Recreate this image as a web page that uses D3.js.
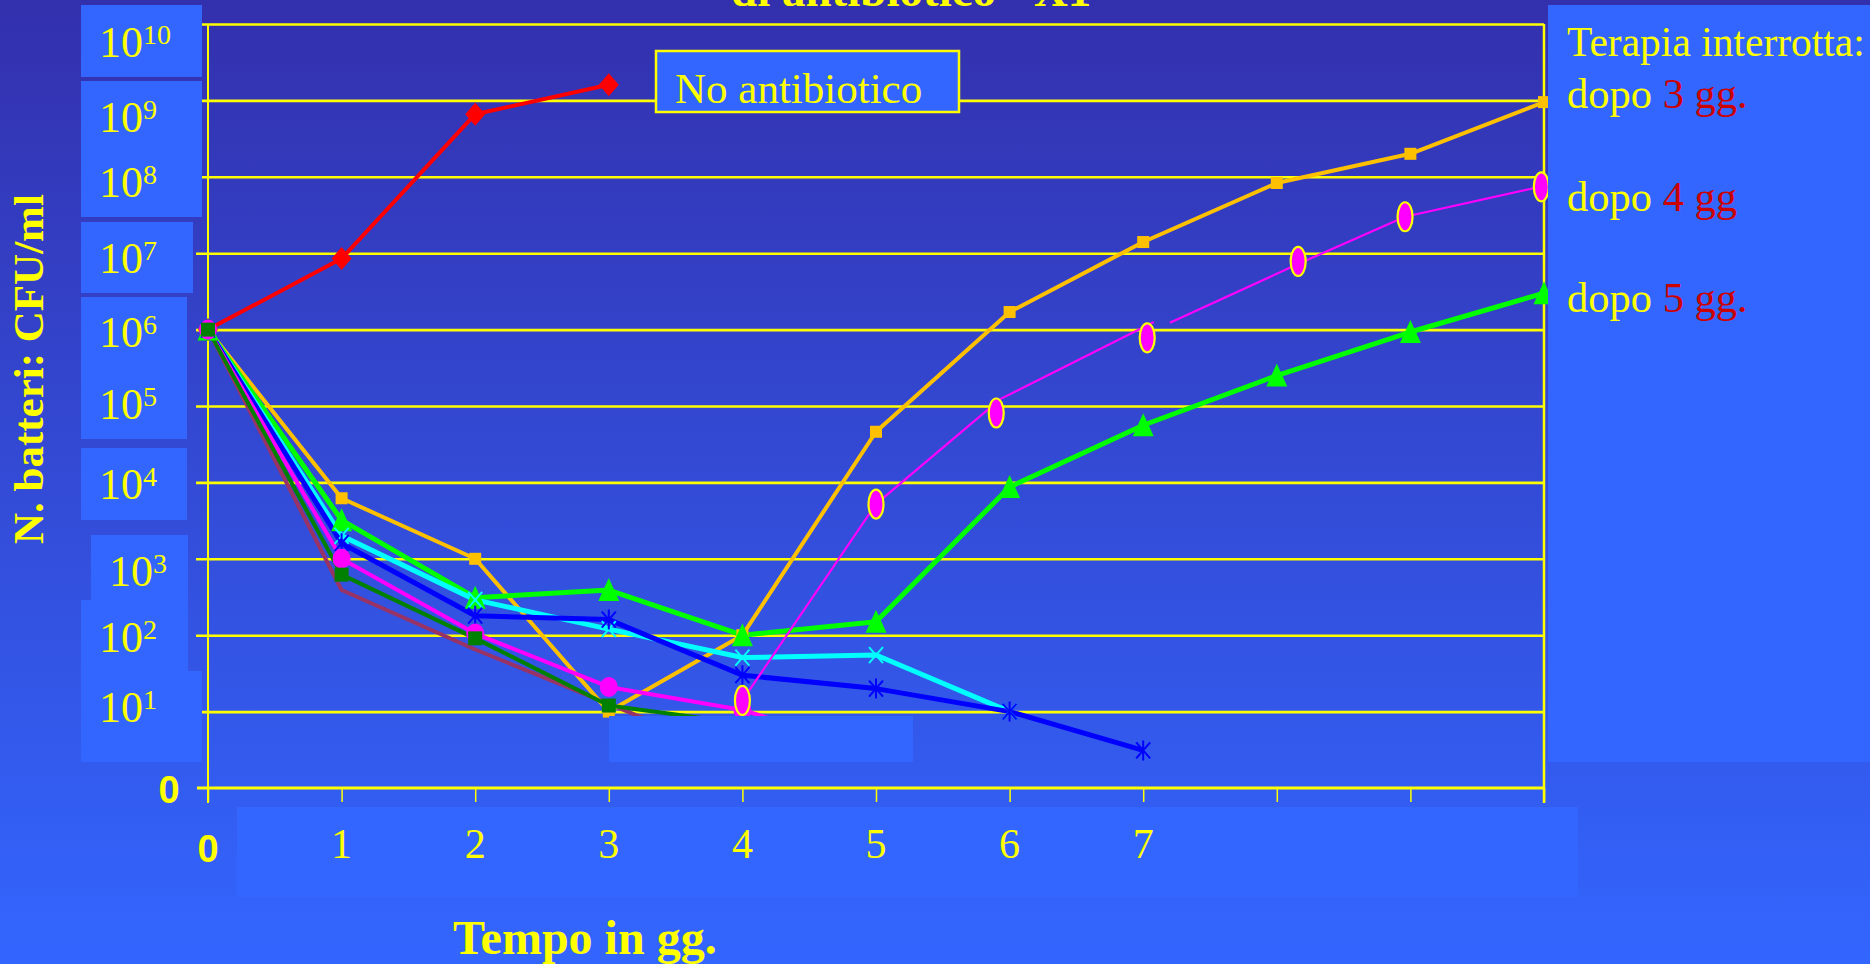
<!DOCTYPE html>
<html><head><meta charset="utf-8">
<script src="https://cdn.jsdelivr.net/npm/d3@7"></script>
<style>html,body{margin:0;padding:0;overflow:hidden;background:#3366FF}</style>
</head><body>
<svg id="c" width="1870" height="964"></svg>
<script>
// ---------- DATA ----------
const days = [0,1,2,3,4,5,6,7,8,9,10];
const xTickLabels = ["1","2","3","4","5","6","7"];
const yExponents = [1,2,3,4,5,6,7,8,9,10];
// CFU/ml per day (index = day)
const cfuNoAntibiotic = [1e6, 8.5e6, 6.6e8, 1.6e9];
const cfuStop3 = [1e6, 6200, 1000, 10, 100, 46000, 1.7e6, 1.4e7, 8.3e7, 2.0e8, 9.5e8];
const cfuStop5 = [1e6, 3200, 310, 390, 100, 150, 8700, 56000, 2.5e5, 9.3e5, 3.0e6];
const cfuCyan = [1e6, 2000, 290, 120, 51, 55, 10];
const cfuBlue = [1e6, 1600, 180, 160, 30, 20, 10, 3.1];
const cfuMagenta = [1e6, 1000, 105, 21, 10.5, 3];
const cfuDarkGreen = [1e6, 620, 91, 12, 7];
const cfuBrown = [1e6, 390, 65, 12.6, 2.4];
// "dopo 4 gg" hand-drawn curve: [day, CFU/ml]
const stop4LineA = [[4,14],[5,5200],[5.93,1.23e5],[7.08,1.26e6]];
const stop4LineB = [[7.2,1.23e6],[8.15,7.1e6],[8.96,3.0e7],[9.97,7.4e7]];
const stop4Marks = [[4,14],[5,5200],[5.9,8.1e4],[7.03,7.8e5],[8.16,7.8e6],[8.96,3.0e7],[9.98,7.4e7]];
const legendLines = [
  {pre:"dopo ", num:"3", post:" gg."},
  {pre:"dopo ", num:"4", post:" gg"},
  {pre:"dopo ", num:"5", post:" gg."}
];

// ---------- LAYOUT ----------
const W = 1870, H = 964;
const YEL = "#FFFF00";
const serif = "'Liberation Serif','Times New Roman',serif";
const sans = "'Liberation Sans',Arial,sans-serif";
const x = d3.scaleLinear().domain([0,10]).range([208,1544]);
const y = d3.scaleLog().domain([1,1e10]).range([788,24]);
const labelNudge = {1:10,2:17,3:27,4:17,5:13,6:17,7:20,8:20,9:32,10:33};
const panelRects = [
  [81,5,121,72],[81,81,121,136],[81,222,112,71],[81,297,106,142],[81,448,106,72],
  [91,535,97,65],[81,600,107,71],[81,671,121,91]
];
const coverRects = [[609,716,304,46],[1548,5,322,757],[237,807,1341,90]];

const svg = d3.select("#c");
const defs = svg.append("defs");
const g = defs.append("linearGradient").attr("id","bg").attr("x1",0).attr("y1",0).attr("x2",0).attr("y2",1);
g.append("stop").attr("offset","0").attr("stop-color","#3330AD");
g.append("stop").attr("offset","1").attr("stop-color","#3366FF");
svg.append("rect").attr("width",W).attr("height",H).attr("fill","url(#bg)");

// title (partly cut off at the top, as in the slide)
svg.append("text").attr("x",731).attr("y",6)
  .attr("font-family",serif).attr("font-weight","bold").attr("font-size",47)
  .attr("fill",YEL).text('di antibiotico "X1"');

// gridlines via axis
const grid = svg.append("g").attr("transform","translate(196,0)")
  .call(d3.axisLeft(y).tickValues(yExponents.map(e=>Math.pow(10,e)))
    .tickSize(-(1544-196)).tickFormat(""));
grid.select(".domain").remove();
grid.selectAll(".tick line").attr("stroke",YEL).attr("stroke-width",2.6);

// bottom axis line and ticks
const xa = svg.append("g").attr("transform",`translate(0,${y(1)})`)
  .call(d3.axisBottom(x).tickValues(days).tickSize(14).tickSizeOuter(0).tickFormat(""));
xa.select(".domain").remove();
xa.selectAll(".tick line").attr("stroke",YEL).attr("stroke-width",1.5);
svg.append("line").attr("x1",197).attr("x2",1544).attr("y1",y(1)).attr("y2",y(1))
  .attr("stroke",YEL).attr("stroke-width",3);
// vertical axes
svg.append("line").attr("x1",x(0)).attr("x2",x(0)).attr("y1",y(1e10)).attr("y2",803)
  .attr("stroke",YEL).attr("stroke-width",2);
svg.append("line").attr("x1",x(10)).attr("x2",x(10)).attr("y1",y(1e10)).attr("y2",803)
  .attr("stroke",YEL).attr("stroke-width",2.5);

// label panels (left)
svg.selectAll("rect.pan").data(panelRects).enter().append("rect").attr("class","pan")
  .attr("x",d=>d[0]).attr("y",d=>d[1]).attr("width",d=>d[2]).attr("height",d=>d[3])
  .attr("fill","#3366FF");

// ---------- SERIES ----------
const sym = {
  diamond: s => s.append("path").attr("d","M0,-11.5L10,0L0,11.5L-10,0Z"),
  square: (s,n) => s.append("rect").attr("x",-n/2).attr("y",-n/2).attr("width",n).attr("height",n),
  triangle: s => s.append("path").attr("d","M0,-12L10.5,11L-10.5,11Z"),
  circle: s => s.append("ellipse").attr("rx",9).attr("ry",10),
  cross: s => s.append("path").attr("d","M-7,-8L7,8M-7,8L7,-8").attr("stroke-width",2),
  star: s => s.append("path").attr("d","M0,-10L0,10M-7,-8L7,8M-7,8L7,-8").attr("stroke-width",2)
};
const series = [
  {vals:cfuBrown, color:"#993366", w:4, m:null},
  {vals:cfuNoAntibiotic, color:"#FF0000", w:4, m:"diamond"},
  {vals:cfuStop3, color:"#FFC000", w:4, m:"square", size:12},
  {vals:cfuStop5, color:"#00FF00", w:5, m:"triangle"},
  {vals:cfuCyan, color:"#00FFFF", w:5, m:"cross"},
  {vals:cfuBlue, color:"#0000FF", w:5, m:"star"},
  {vals:cfuMagenta, color:"#FF00FF", w:4, m:"circle"},
  {vals:cfuDarkGreen, color:"#008000", w:4, m:"square", size:14}
];
const line = d3.line().x((d,i)=>x(days[i])).y(d=>y(d));
series.forEach(s=>{
  svg.append("path").attr("d",line(s.vals)).attr("fill","none")
    .attr("stroke",s.color).attr("stroke-width",s.w).attr("stroke-linejoin","round");
});
series.forEach(s=>{
  if(!s.m) return;
  s.vals.forEach((v,i)=>{
    const gm = svg.append("g").attr("transform",`translate(${x(days[i])},${y(v)})`);
    const el = sym[s.m](gm, s.size);
    if(s.m==="cross"||s.m==="star") el.attr("stroke",s.color).attr("fill","none");
    else el.attr("fill",s.color);
  });
});
// "dopo 4 gg" thin curve and hand-placed ellipses
const line2 = d3.line().x(d=>x(d[0])).y(d=>y(d[1]));
[stop4LineA, stop4LineB].forEach(seg=>{
  svg.append("path").attr("d",line2(seg)).attr("fill","none")
    .attr("stroke","#FF00FF").attr("stroke-width",2.2);
});
svg.selectAll("ellipse.m4").data(stop4Marks).enter().append("ellipse").attr("class","m4")
  .attr("cx",d=>x(d[0])).attr("cy",d=>y(d[1])).attr("rx",7.5).attr("ry",14.5)
  .attr("fill","#FF00FF").attr("stroke",YEL).attr("stroke-width",2.2);

// covering boxes
svg.selectAll("rect.cov").data(coverRects).enter().append("rect").attr("class","cov")
  .attr("x",d=>d[0]).attr("y",d=>d[1]).attr("width",d=>d[2]).attr("height",d=>d[3])
  .attr("fill","#3366FF");

// ---------- TEXT ----------
// y tick labels
yExponents.forEach(e=>{
  const t = svg.append("text").attr("x", e===3 ? 109 : 99).attr("y", y(Math.pow(10,e)) + labelNudge[e])
    .attr("font-family",serif).attr("font-size",44).attr("fill",YEL);
  t.append("tspan").text("10");
  t.append("tspan").attr("font-size",28).attr("dy",-13).text(String(e));
});
svg.append("text").attr("x",169).attr("y",803).attr("text-anchor","middle")
  .attr("font-family",sans).attr("font-weight","bold").attr("font-size",38).attr("fill",YEL).text("0");
// x tick labels
svg.append("text").attr("x",x(0)).attr("y",862).attr("text-anchor","middle")
  .attr("font-family",sans).attr("font-weight","bold").attr("font-size",38).attr("fill",YEL).text("0");
svg.selectAll("text.xt").data(xTickLabels).enter().append("text").attr("class","xt")
  .attr("x",(d,i)=>x(days[i+1])).attr("y",858).attr("text-anchor","middle")
  .attr("font-family",serif).attr("font-size",42).attr("fill",YEL).text(d=>d);
// axis titles
svg.append("text").attr("transform","translate(43,544) rotate(-90)")
  .attr("font-family",serif).attr("font-weight","bold").attr("font-size",43).attr("fill",YEL)
  .text("N. batteri: CFU/ml");
svg.append("text").attr("x",453).attr("y",954)
  .attr("font-family",serif).attr("font-weight","bold").attr("font-size",48).attr("fill",YEL)
  .text("Tempo in gg.");
// legend box
svg.append("rect").attr("x",656).attr("y",51).attr("width",303).attr("height",61)
  .attr("fill","#3366FF").attr("stroke",YEL).attr("stroke-width",2.5);
svg.append("text").attr("x",675).attr("y",103).attr("font-family",serif).attr("font-size",43)
  .attr("fill",YEL).text("No antibiotico");
// right panel text
svg.append("text").attr("x",1567).attr("y",56).attr("font-family",serif).attr("font-size",41.5)
  .attr("fill",YEL).text("Terapia interrotta:");
const legY = [108,211,312];
legendLines.forEach((l,i)=>{
  const t = svg.append("text").attr("x",1567).attr("y",legY[i]).attr("font-family",serif)
    .attr("font-size",42.5).attr("fill",YEL);
  t.append("tspan").text(l.pre);
  t.append("tspan").attr("fill","#CC0000").text(l.num + l.post);
});
</script>
</body></html>
